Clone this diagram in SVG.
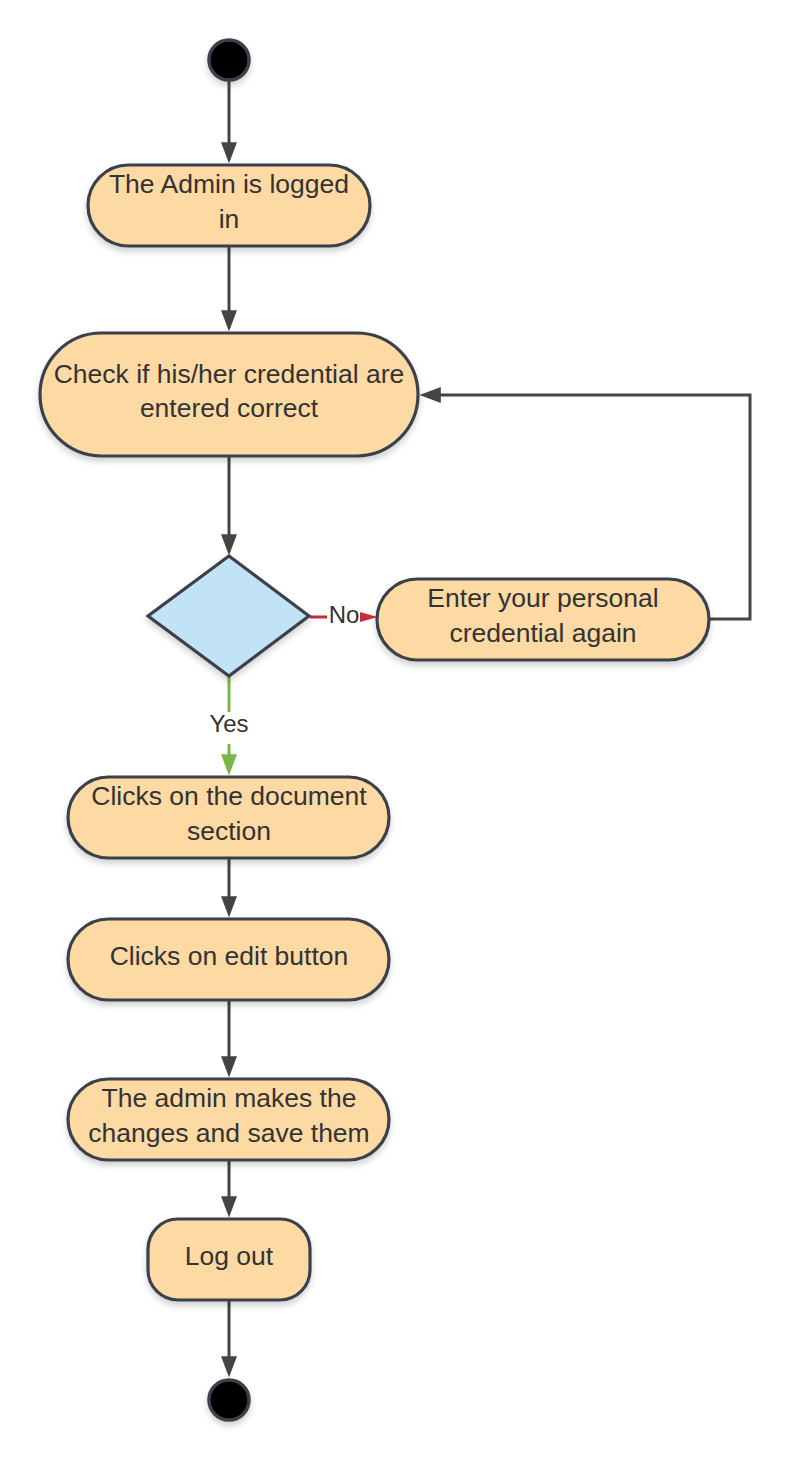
<svg xmlns="http://www.w3.org/2000/svg" width="790" height="1460" viewBox="0 0 790 1460">
  <style>
    .node { fill: #fdd9a4; stroke: #3a414a; stroke-width: 3.2; }
    .dec { fill: #c2e3f6; stroke: #3a414a; stroke-width: 3.2; }
    .term { fill: #000000; stroke: #3a414a; stroke-width: 3.5; }
    .lbl { font-family: "Liberation Sans", Arial, sans-serif; font-size: 26.5px; fill: #333333; text-anchor: middle; }
    .elbl { font-family: "Liberation Sans", Arial, sans-serif; font-size: 24px; fill: #333333; text-anchor: middle; }
    .conn { fill: none; stroke: #444444; stroke-width: 3; }
    .yes { fill: none; stroke: #7ab648; stroke-width: 3; }
    .no { fill: none; stroke: #c92d39; stroke-width: 3; }
  </style>
  <defs>
    <filter id="sh" x="-20%" y="-20%" width="140%" height="150%">
      <feDropShadow dx="0" dy="4" stdDeviation="3" flood-color="#000000" flood-opacity="0.18"/>
    </filter>
    <marker id="arr" markerUnits="userSpaceOnUse" markerWidth="22" markerHeight="16" viewBox="0 0 20 15" refX="12" refY="7.5" orient="auto">
      <path d="M0,0 L20,7.5 L0,15 z" fill="#444444"/>
    </marker>
    <marker id="arrG" markerUnits="userSpaceOnUse" markerWidth="22" markerHeight="16" viewBox="0 0 20 15" refX="12" refY="7.5" orient="auto">
      <path d="M0,0 L20,7.5 L0,15 z" fill="#7ab648"/>
    </marker>
    <marker id="arrR" markerUnits="userSpaceOnUse" markerWidth="18" markerHeight="10" viewBox="0 0 16 9" refX="10" refY="4.5" orient="auto">
      <path d="M0,0 L16,4.5 L0,9 z" fill="#c92d39"/>
    </marker>
  </defs>

  <g id="connectors">
    <path class="conn" d="M229,81 V155" marker-end="url(#arr)"/>
    <path class="conn" d="M229,246 V323" marker-end="url(#arr)"/>
    <path class="conn" d="M229,457 V547" marker-end="url(#arr)"/>
    <path class="yes" d="M229,677 V712"/>
    <path class="yes" d="M229,744 V767" marker-end="url(#arrG)"/>
    <text class="elbl" x="229" y="732">Yes</text>
    <path class="no" d="M310,617 H327"/>
    <path class="no" d="M362,617 H371" marker-end="url(#arrR)"/>
    <text class="elbl" x="344" y="623">No</text>
    <path class="conn" d="M709,619 H750 V395 H428" marker-end="url(#arr)"/>
    <path class="conn" d="M229,858 V909" marker-end="url(#arr)"/>
    <path class="conn" d="M229,1000 V1069" marker-end="url(#arr)"/>
    <path class="conn" d="M229,1160 V1209" marker-end="url(#arr)"/>
    <path class="conn" d="M229,1300 V1369" marker-end="url(#arr)"/>
  </g>

  <g id="start">
    <circle class="term" cx="229" cy="60" r="20" filter="url(#sh)"/>
  </g>

  <g id="logged-in">
    <rect class="node" x="88" y="165" width="282" height="81" rx="40.5" filter="url(#sh)"/>
    <text class="lbl" x="229" y="193">The Admin is logged</text>
    <text class="lbl" x="229" y="228">in</text>
  </g>

  <g id="check-credential">
    <rect class="node" x="40" y="333" width="378" height="123" rx="61.5" filter="url(#sh)"/>
    <text class="lbl" x="229" y="383">Check if his/her credential are</text>
    <text class="lbl" x="229" y="417">entered correct</text>
  </g>

  <g id="decision">
    <polygon class="dec" points="229,556 309,616 229,676 148,616" filter="url(#sh)"/>
  </g>

  <g id="enter-again">
    <rect class="node" x="377" y="579" width="332" height="81" rx="40.5" filter="url(#sh)"/>
    <text class="lbl" x="543" y="607">Enter your personal</text>
    <text class="lbl" x="543" y="642">credential again</text>
  </g>

  <g id="document-section">
    <rect class="node" x="68" y="777" width="321" height="81" rx="40.5" filter="url(#sh)"/>
    <text class="lbl" x="229" y="805">Clicks on the document</text>
    <text class="lbl" x="229" y="840">section</text>
  </g>

  <g id="edit-button">
    <rect class="node" x="68" y="919" width="321" height="81" rx="40.5" filter="url(#sh)"/>
    <text class="lbl" x="229" y="965">Clicks on edit button</text>
  </g>

  <g id="make-changes">
    <rect class="node" x="68" y="1079" width="321" height="81" rx="40.5" filter="url(#sh)"/>
    <text class="lbl" x="229" y="1107">The admin makes the</text>
    <text class="lbl" x="229" y="1142">changes and save them</text>
  </g>

  <g id="log-out">
    <rect class="node" x="148" y="1219" width="162" height="81" rx="30" filter="url(#sh)"/>
    <text class="lbl" x="229" y="1265">Log out</text>
  </g>

  <g id="end">
    <circle class="term" cx="229" cy="1400" r="20" filter="url(#sh)"/>
  </g>
</svg>
